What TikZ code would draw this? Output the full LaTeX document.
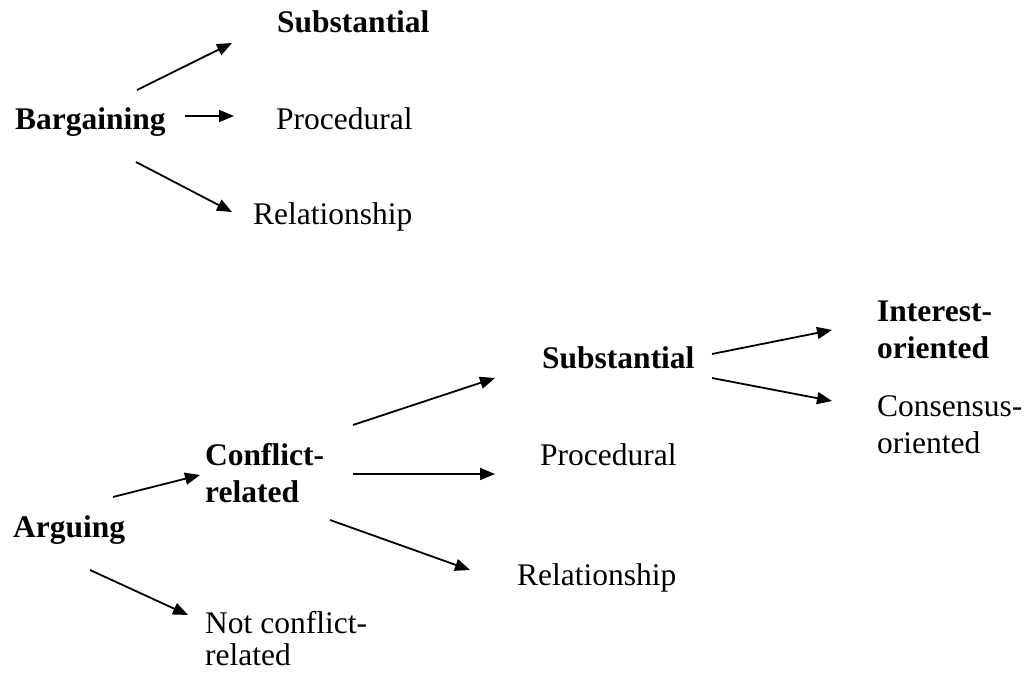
\documentclass[tikz,border=0pt]{standalone}
\usepackage{fontspec}
\setmainfont{Liberation Serif}
\usetikzlibrary{arrows.meta}
\begin{document}
\begin{tikzpicture}[x=1pt,y=-1pt,
  lbl/.style={anchor=base west,inner sep=0pt,align=left,font=\fontsize{31.5}{36.5}\selectfont},
  blbl/.style={lbl,font=\fontsize{31.5}{36.5}\selectfont\bfseries},
  arr/.style={line width=1.8pt,-{Triangle[length=15pt,width=12pt]}}]
\useasboundingbox (0,0) rectangle (1029,674);
% upper part
\node[blbl] (bsub) at (277,33) {Substantial};
\node[blbl] (barg) at (15,130) {Bargaining};
\node[lbl] (bproc) at (276,130) {Procedural};
\node[lbl] (brel) at (253,225) {Relationship};
\coordinate (b1s) at (137,90);  \coordinate (b1e) at (232,43);
\coordinate (b2s) at (185,116); \coordinate (b2e) at (234,116);
\coordinate (b3s) at (136,162); \coordinate (b3e) at (232,212);
\draw[arr] (b1s) -- (b1e);
\draw[arr] (b2s) -- (b2e);
\draw[arr] (b3s) -- (b3e);
% lower part (multi-line nodes: base = last line)
\node[blbl] (aint) at (877,358) {Interest-\\oriented};
\node[lbl] (acons) at (877,453) {Consensus-\\oriented};
\node[blbl] (asub) at (542,368) {Substantial};
\node[lbl] (aproc) at (540,465) {Procedural};
\node[lbl] (arel) at (517,585) {Relationship};
\node[blbl] (aconf) at (205,502) {Conflict-\\related};
\node[blbl] (aarg) at (13,537) {Arguing};
\node[lbl,font=\fontsize{31.5}{32}\selectfont] (anot) at (205,665) {Not conflict-\\related};
\coordinate (s1s) at (712,354); \coordinate (s1e) at (832,330);
\coordinate (s2s) at (712,378); \coordinate (s2e) at (832,401);
\coordinate (c1s) at (353,425); \coordinate (c1e) at (495,378);
\coordinate (c2s) at (353,474); \coordinate (c2e) at (495,474);
\coordinate (c3s) at (330,520); \coordinate (c3e) at (470,570);
\coordinate (g1s) at (113,497); \coordinate (g1e) at (200,475);
\coordinate (g2s) at (90,570);  \coordinate (g2e) at (188,615);
\draw[arr] (s1s) -- (s1e);
\draw[arr] (s2s) -- (s2e);
\draw[arr] (c1s) -- (c1e);
\draw[arr] (c2s) -- (c2e);
\draw[arr] (c3s) -- (c3e);
\draw[arr] (g1s) -- (g1e);
\draw[arr] (g2s) -- (g2e);
\end{tikzpicture}
\end{document}
